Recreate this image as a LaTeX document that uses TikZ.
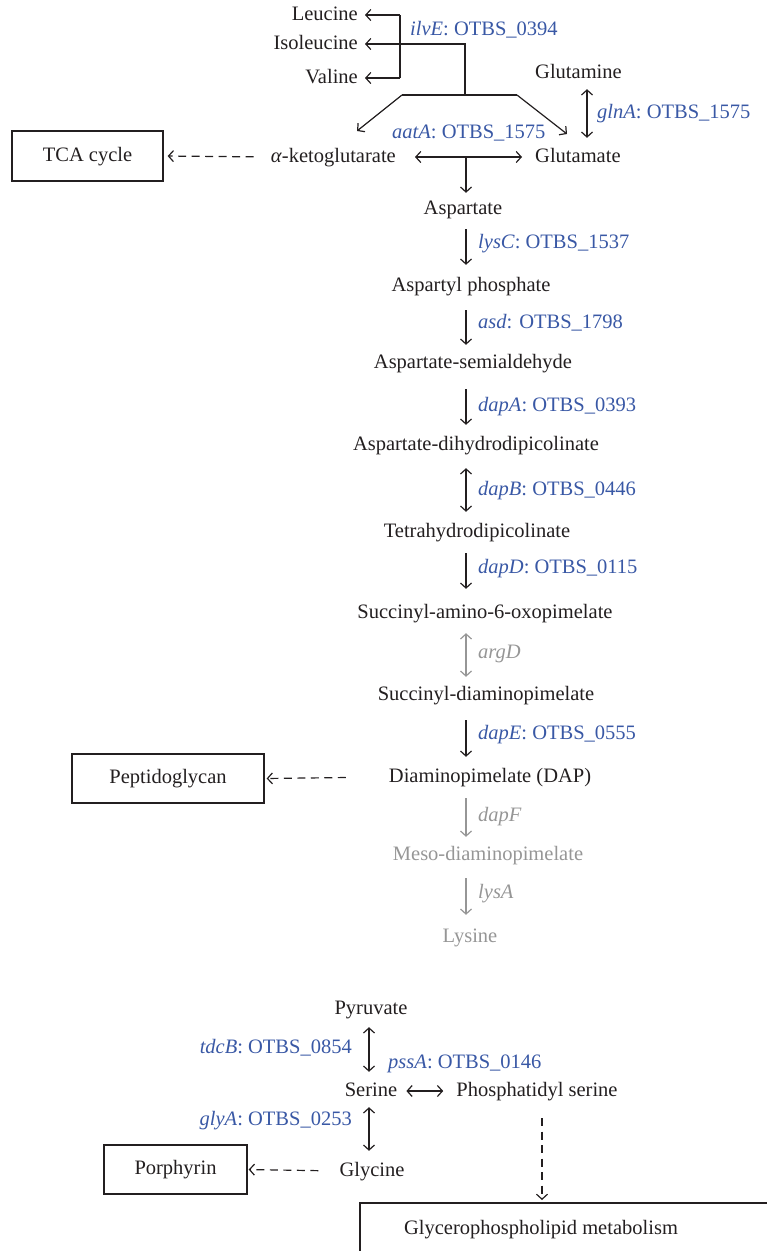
\documentclass[tikz,border=0pt]{standalone}
\usepackage{fontspec}
\setmainfont{Liberation Serif}
\usetikzlibrary{arrows.meta}
\definecolor{ink}{RGB}{35,31,32}
\definecolor{gene}{RGB}{57,88,165}
\definecolor{faint}{RGB}{150,150,150}
\begin{document}
\begin{tikzpicture}[x=1pt,y=-1pt,
  font=\fontsize{20.5}{24}\selectfont,
  every node/.style={inner sep=0pt, text=ink, text height=14pt, text depth=4pt},
  lab/.style={text=gene, anchor=west},
  labl/.style={text=gene, anchor=east},
  greytext/.style={text=faint},
  conn/.style={draw=ink, line width=1.2pt},
  rx/.style={conn, -{Straight Barb[length=5pt,width=11pt]}},
  rxx/.style={conn, {Straight Barb[length=5pt,width=11pt]}-{Straight Barb[length=5pt,width=11pt]}},
  rxg/.style={rx, draw=faint},
  rxxg/.style={rxx, draw=faint},
  dsh/.style={conn, dash pattern=on 8pt off 5.5pt, -{Straight Barb[length=5pt,width=11pt]}},
  box/.style={draw=ink, line width=1.3pt}
]
\useasboundingbox (0,0) rectangle (767,1251);
\clip (0,0) rectangle (767,1251);

% ---------- top part ----------
\node[anchor=east] (leu) at (358,15) {Leucine};
\node[anchor=east] (ile) at (358,44) {Isoleucine};
\node[anchor=east] (val) at (358,78) {Valine};
\node[lab] (ilve) at (410,30) {\textit{ilvE}: OTBS\_0394};
\node[anchor=west] (gln) at (535,73) {Glutamine};
\node[anchor=west] (glu) at (535,157) {Glutamate};
\node[anchor=east] (akg) at (396,157) {\textit{α}-ketoglutarate};
\node[lab] (aata) at (392,133) {\textit{aatA}: OTBS\_1575};
\node[lab] (glna) at (597,113) {\textit{glnA}: OTBS\_1575};
\node[box, minimum width=151pt, minimum height=50pt] (tca) at (87.5,156) {TCA cycle};

\coordinate (br) at (400,44);
\coordinate (jn) at (465,95);
\coordinate (jl) at (402,95);
\coordinate (jr) at (517,95);
\coordinate (akgtip) at (357,131);
\coordinate (glutip) at (567,134);
\coordinate (gx) at (587,0);
\coordinate (col) at (466,0);
\coordinate (col2) at (369,0);
\coordinate (px) at (542,0);

\draw[conn] (br |- leu) -- (br |- val);
\draw[rx, shorten >=7pt] (br |- leu) -- (leu.east);
\draw[rx, shorten >=7pt] (br |- val) -- (val.east);
\draw[rx, shorten >=7pt] (jn) |- (ile.east);
\draw[conn] (jl) -- (jr);
\draw[rx] (jl) -- (akgtip);
\draw[rx] (jr) -- (glutip);
\draw[rxx, shorten <=7pt, shorten >=10pt] (gln.south -| gx) -- (glu.north -| gx);
\draw[rxx, shorten <=19pt, shorten >=13pt] (akg.east) -- (glu.west);
\draw[dsh, shorten <=17pt, shorten >=4pt] (akg.west) -- (tca.east);

% ---------- lysine pathway ----------
\node (asp) at (463,209) {Aspartate};
\node (aph) at (471,286) {Aspartyl phosphate};
\node (asemi) at (473,363) {Aspartate-semialdehyde};
\node (adhd) at (476,445) {Aspartate-dihydrodipicolinate};
\node (thdp) at (477,532) {Tetrahydrodipicolinate};
\node (saop) at (485,613) {Succinyl-amino-6-oxopimelate};
\node (sdap) at (486,695) {Succinyl-diaminopimelate};
\node (dap) at (490,777) {Diaminopimelate (DAP)};
\node[greytext] (meso) at (488,855) {Meso-diaminopimelate};
\node[greytext] (lys) at (470,937) {Lysine};
\node[box, minimum width=192pt, minimum height=49pt] (pep) at (168,778.5) {Peptidoglycan};

\node[lab] (lysc) at (478,243) {\textit{lysC}: OTBS\_1537};
\node[lab] (asd) at (478,323) {\textit{asd}: OTBS\_1798};
\node[lab] (dapa) at (478,406) {\textit{dapA}: OTBS\_0393};
\node[lab] (dapb) at (478,490) {\textit{dapB}: OTBS\_0446};
\node[lab] (dapd) at (478,568) {\textit{dapD}: OTBS\_0115};
\node[lab, text=faint] (argd) at (478,653) {\textit{argD}};
\node[lab] (dape) at (478,734) {\textit{dapE}: OTBS\_0555};
\node[lab, text=faint] (dapf) at (478,816) {\textit{dapF}};
\node[lab, text=faint] (lysa) at (478,893) {\textit{lysA}};

\draw[rx, shorten >=7pt] (col |- akg) -- (asp.north -| col);
\draw[rx, shorten <=11pt, shorten >=12pt] (asp.south -| col) -- (aph.north -| col);
\draw[rx, shorten <=15pt, shorten >=9pt] (aph.south -| col) -- (asemi.north -| col);
\draw[rx, shorten <=17pt, shorten >=11pt] (asemi.south -| col) -- (adhd.north -| col);
\draw[rxx, shorten <=14pt, shorten >=11pt] (adhd.south -| col) -- (thdp.north -| col);
\draw[rx, shorten <=12pt, shorten >=15pt] (thdp.south -| col) -- (saop.north -| col);
\draw[rxxg, shorten <=11pt, shorten >=9pt] (saop.south -| col) -- (sdap.north -| col);
\draw[rx, shorten <=16pt, shorten >=11pt] (sdap.south -| col) -- (dap.north -| col);
\draw[rxg, shorten <=12pt, shorten >=9pt] (dap.south -| col) -- (meso.north -| col);
\draw[rxg, shorten <=14pt, shorten >=13pt] (meso.south -| col) -- (lys.north -| col);
\draw[dsh, shorten <=43pt, shorten >=2pt] (dap.west) -- (pep.east);

% ---------- serine part ----------
\node (pyr) at (371,1009) {Pyruvate};
\node (ser) at (371,1091) {Serine};
\node (phos) at (537,1091) {Phosphatidyl serine};
\node (gly) at (372,1171) {Glycine};
\node[box, minimum width=143pt, minimum height=49pt] (porph) at (175.5,1169.5) {Porphyrin};
\node (glyc) at (541,1229) {Glycerophospholipid metabolism};
\coordinate (gtl) at (360,1203);
\coordinate (gbr) at (820,1300);
\draw[box] (gtl) rectangle (gbr);

\node[labl] (tdcb) at (352,1048) {\textit{tdcB}: OTBS\_0854};
\node[lab] (pssa) at (388,1063) {\textit{pssA}: OTBS\_0146};
\node[labl] (glya) at (352,1120) {\textit{glyA}: OTBS\_0253};

\draw[rxx, shorten <=9pt, shorten >=10pt] (pyr.south -| col2) -- (ser.north -| col2);
\draw[rxx, shorten <=7pt, shorten >=11pt] (ser.south -| col2) -- (gly.north -| col2);
\draw[rxx, shorten <=9pt, shorten >=13pt] (ser.east) -- (phos.west);
\draw[dsh, shorten <=18pt, shorten >=3pt] (phos.south -| px) -- (gtl -| px);
\draw[dsh, shorten <=21pt, shorten >=1pt] (gly.west) -- (porph.east);
\end{tikzpicture}
\end{document}
